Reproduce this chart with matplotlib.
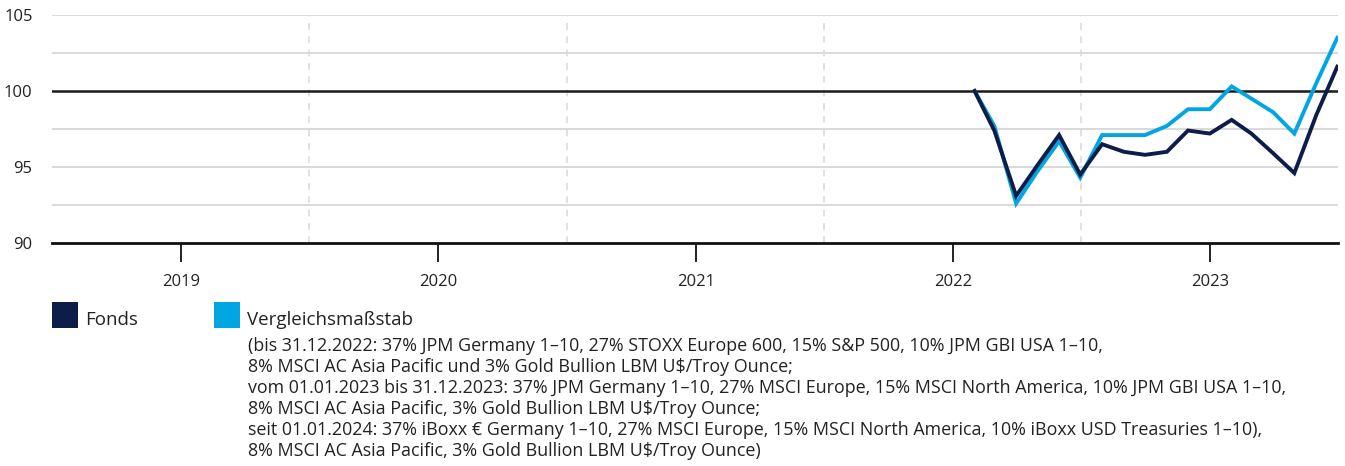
import matplotlib
matplotlib.use('Agg')
import matplotlib.pyplot as plt
import matplotlib.patches as mpatches
import pandas as pd

plt.rcParams['font.family'] = ['Open Sans', 'DejaVu Sans']

# Monatswerte (indexiert, Start = 100)
months = pd.date_range("2022-02-01", "2023-07-01", freq="MS")
fonds = [100, 97.4, 93.1, 95.1, 97.1, 94.5, 96.5, 96.0, 95.8, 96.0,
         97.4, 97.2, 98.1, 97.2, 95.9, 94.6, 98.4, 101.6]
benchmark = [100, 97.7, 92.6, 94.7, 96.7, 94.3, 97.1, 97.1, 97.1, 97.7,
             98.8, 98.8, 100.3, 99.5, 98.6, 97.2, 100.5, 103.5]
years = [2019, 2020, 2021, 2022, 2023]
y_ticks = [90, 95, 100, 105]
y_minor = [92.5, 97.5, 102.5]

COLORS = {'fonds': '#0c1d4a', 'bench': '#00a6e2'}

legend_labels = ["Fonds", "Vergleichsmaßstab"]
bench_note = [
    "(bis 31.12.2022: 37% JPM Germany 1–10, 27% STOXX Europe 600, 15% S&P 500, 10% JPM GBI USA 1–10,",
    "8% MSCI AC Asia Pacific und 3% Gold Bullion LBM U$/Troy Ounce;",
    "vom 01.01.2023 bis 31.12.2023: 37% JPM Germany 1–10, 27% MSCI Europe, 15% MSCI North America, 10% JPM GBI USA 1–10,",
    "8% MSCI AC Asia Pacific, 3% Gold Bullion LBM U$/Troy Ounce;",
    "seit 01.01.2024: 37% iBoxx € Germany 1–10, 27% MSCI Europe, 15% MSCI North America, 10% iBoxx USD Treasuries 1–10),",
    "8% MSCI AC Asia Pacific, 3% Gold Bullion LBM U$/Troy Ounce)",
]

W, H = 1345, 466
fig = plt.figure(figsize=(W / 100, H / 100), dpi=100)
ax = fig.add_axes([52 / W, 1 - 243 / H, (1338 - 52) / W, (243 - 15) / H])

ax.set_xlim(pd.Timestamp("2018-07-02"), pd.Timestamp("2023-07-02"))
ax.set_ylim(90, 105)

# Raster
for v in y_minor + [95, 105]:
    ax.axhline(v, color='#d9d9d9', lw=1.4, zorder=1)
for y in years[:-1]:
    ax.axvline(pd.Timestamp(f"{y}-07-02"), color='#dcdcdc', lw=1.2,
               ls=(0, (4, 4)), zorder=1)
ax.axhline(100, color='#1a1a1a', lw=1.8, zorder=2)

ax.plot(months, benchmark, color=COLORS['bench'], lw=2.8, zorder=3,
        solid_joinstyle='miter')
ax.plot(months, fonds, color=COLORS['fonds'], lw=2.8, zorder=4,
        solid_joinstyle='miter')

for s in ['top', 'right', 'left']:
    ax.spines[s].set_visible(False)
ax.spines['bottom'].set_linewidth(2.0)
ax.spines['bottom'].set_color('#111111')

ax.set_yticks(y_ticks)
ax.tick_params(axis='y', length=0, pad=14, labelsize=12, labelcolor='#222222')
ax.set_xticks([pd.Timestamp(f"{y}-01-01") for y in years])
ax.set_xticklabels([str(y) for y in years])
ax.tick_params(axis='x', length=14, width=1.3, color='#111111', pad=8,
               labelsize=12, labelcolor='#222222')

# Legende
def px(x, y):
    return x / W, 1 - y / H

for (x0, key, label) in [(52, 'fonds', legend_labels[0]), (214, 'bench', legend_labels[1])]:
    fx, fy = px(x0, 328)
    fig.patches.append(mpatches.Rectangle((fx, fy), 26 / W, 26 / H,
                                          transform=fig.transFigure,
                                          color=COLORS[key], lw=0))
    tx, ty = px(x0 + 33, 320)
    fig.text(tx, ty, label, fontsize=13.5, va='center', ha='left', color='#222222')

for i, line in enumerate(bench_note):
    tx, ty = px(248, 346 + i * 21)
    fig.text(tx, ty, line, fontsize=12.9, va='center', ha='left', color='#222222')

plt.savefig('out.png', dpi=100)
plt.close(fig)
